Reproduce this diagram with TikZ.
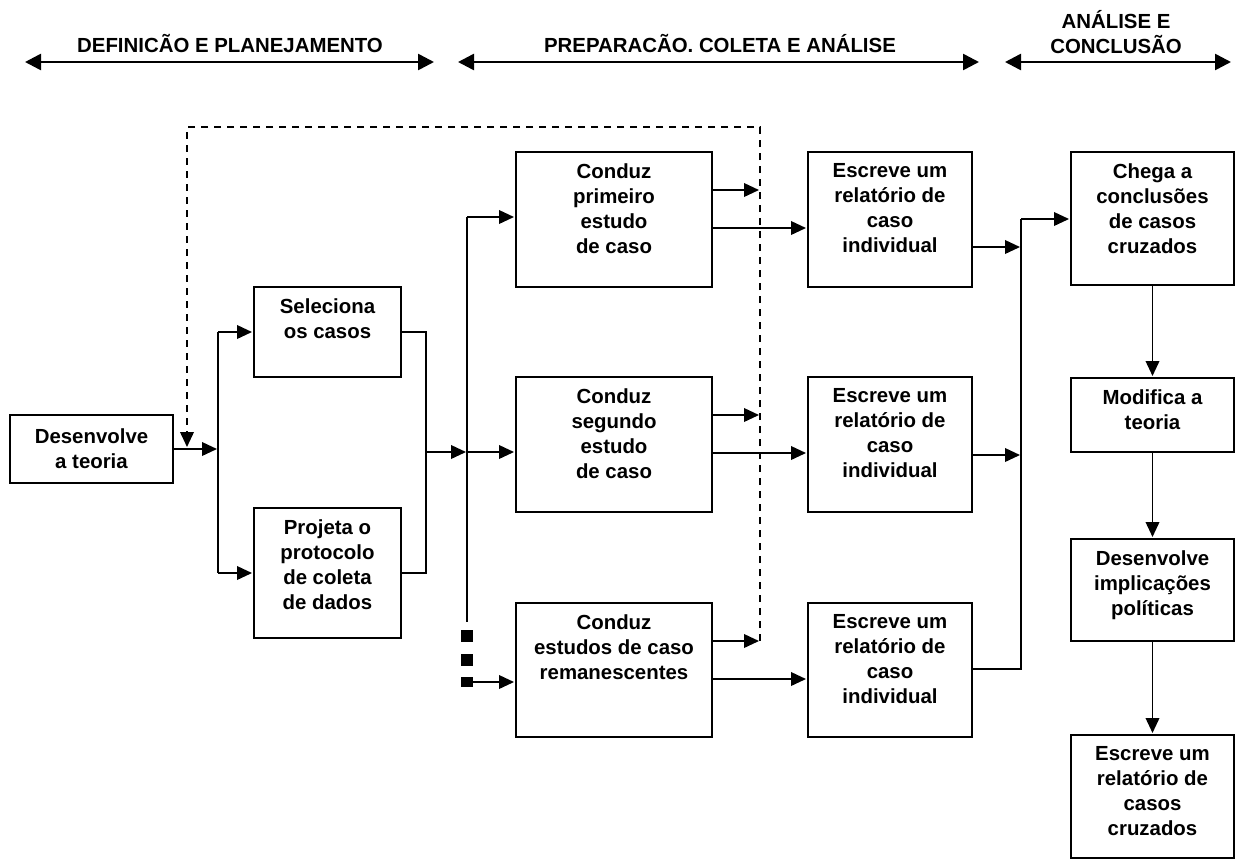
\documentclass[tikz,border=0pt]{standalone}
\usepackage{fontspec}
\setmainfont{Liberation Sans}
\usetikzlibrary{arrows.meta,fit,positioning}

\tikzset{
  caixa/.style={draw, line width=1pt, inner sep=0pt},
  rotulo/.style={font=\fontsize{10.2}{12.5}\selectfont\bfseries, align=center, inner sep=0pt, anchor=north},
  titulo/.style={font=\fontsize{10.2}{12.5}\selectfont\bfseries, align=center, inner sep=0pt},
  liga/.style={line width=0.9pt},
  seta/.style={liga, shorten >=0.5pt, -{Triangle[length=7.5pt,width=6.8pt]}},
  retorno/.style={line width=0.9pt, dash pattern=on 3.5pt off 3pt, -{Triangle[length=7.5pt,width=6.8pt]}},
  fase/.style={line width=1.3pt, {Triangle[length=8pt,width=8pt]}-{Triangle[length=8pt,width=8pt]}}
}

\begin{document}
\begin{tikzpicture}[x=0.5pt, y=-0.5pt]
\useasboundingbox (0,0) rectangle (1236,863);

% fases
\coordinate (f1a) at (25,62);
\coordinate (f1b) at (434,62);
\coordinate (f2a) at (458,62);
\coordinate (f2b) at (979,62);
\coordinate (f3a) at (1005,62);
\coordinate (f3b) at (1231,62);
\draw[fase] (f1a) -- (f1b);
\draw[fase] (f2a) -- (f2b);
\draw[fase] (f3a) -- (f3b);
\node[titulo, anchor=base] (fase1) at (230,52) {DEFINICÃO E PLANEJAMENTO};
\node[titulo, anchor=base] (fase2) at (720,52) {PREPARACÃO. COLETA E ANÁLISE};
\node[titulo] (fase3) at (1116,32) {ANÁLISE E\\CONCLUSÃO};

% caixas
\node[caixa, fit={(10,415) (173,483)}] (dev) {};
\node[caixa, fit={(254,287) (401,377)}] (sel) {};
\node[caixa, fit={(254,508) (401,638)}] (proj) {};
\node[caixa, fit={(516,152) (712,287)}] (cp1) {};
\node[caixa, fit={(516,377) (712,512)}] (cp2) {};
\node[caixa, fit={(516,603) (712,737)}] (cp3) {};
\node[caixa, fit={(808,152) (972,287)}] (rel1) {};
\node[caixa, fit={(808,377) (972,512)}] (rel2) {};
\node[caixa, fit={(808,603) (972,737)}] (rel3) {};
\node[caixa, fit={(1071,152) (1234,285)}] (con) {};
\node[caixa, fit={(1071,378) (1234,452)}] (mod) {};
\node[caixa, fit={(1071,539) (1234,641)}] (imp) {};
\node[caixa, fit={(1071,735) (1234,858)}] (cruz) {};

\node[titulo] (devt) at (dev.center) {Desenvolve\\a teoria};
\node[rotulo] (selt) at ([yshift=-6pt]sel.north) {Seleciona\\os casos};
\node[rotulo] (projt) at ([yshift=-6pt]proj.north) {Projeta o\\protocolo\\de coleta\\de dados};
\node[rotulo] (cp1t) at ([yshift=-6pt]cp1.north) {Conduz\\primeiro\\estudo\\de caso};
\node[rotulo] (cp2t) at ([yshift=-6pt]cp2.north) {Conduz\\segundo\\estudo\\de caso};
\node[rotulo] (cp3t) at ([yshift=-6pt]cp3.north) {Conduz\\estudos de caso\\remanescentes};
\node[rotulo] (rel1t) at ([yshift=-6pt]rel1.north) {Escreve um\\relatório de\\caso\\individual};
\node[rotulo] (rel2t) at ([yshift=-6pt]rel2.north) {Escreve um\\relatório de\\caso\\individual};
\node[rotulo] (rel3t) at ([yshift=-6pt]rel3.north) {Escreve um\\relatório de\\caso\\individual};
\node[rotulo] (cont) at ([yshift=-6pt]con.north) {Chega a\\conclusões\\de casos\\cruzados};
\node[rotulo] (modt) at ([yshift=-6pt]mod.north) {Modifica a\\teoria};
\node[rotulo] (impt) at ([yshift=-6pt]imp.north) {Desenvolve\\implicações\\políticas};
\node[rotulo] (cruzt) at ([yshift=-6pt]cruz.north) {Escreve um\\relatório de\\casos\\cruzados};

% definicao
\coordinate (v1t) at (218,332);
\coordinate (v1b) at (218,573);
\draw[seta] (dev.east) -- (dev.east -| v1t);
\draw[liga] (v1t) -- (v1b);
\draw[seta] (v1t) -- (sel.west |- v1t);
\draw[seta] (v1b) -- (proj.west |- v1b);
\coordinate (v2t) at (426,332);
\coordinate (v2b) at (426,573);
\coordinate (v2m) at (426,452);
\draw[liga] (sel.east |- v2t) -- (v2t) -- (v2b) -- (proj.east |- v2b);

% casos
\coordinate (e1) at (467,217);
\coordinate (e2) at (467,452);
\coordinate (e3) at (467,622);
\coordinate (e4) at (473,682);
\draw[seta] (v2m) -- (e2);
\draw[liga] (e1) -- (e3);
\fill (461,630) rectangle (473,642);
\fill (461,654) rectangle (473,666);
\fill (461,677) rectangle (473,687);
\draw[seta] (e1) -- (cp1.west |- e1);
\draw[seta] (e2) -- (cp2.west |- e2);
\draw[seta] (e4) -- (cp3.west |- e4);

% retorno
\coordinate (r1) at (760,641);
\coordinate (r2) at (760,127);
\coordinate (r3) at (187,127);
\coordinate (r4) at (187,447);
\draw[retorno] (r1) -- (r2) -- (r3) -- (r4);
\foreach \c/\ya/\yb in {cp1/190/228, cp2/415/453, cp3/641/679} {
  \draw[seta] (\c.east |- 0,\ya) -- (r2 |- 0,\ya);
}
\draw[seta] (cp1.east |- 0,228) -- (rel1.west |- 0,228);
\draw[seta] (cp2.east |- 0,453) -- (rel2.west |- 0,453);
\draw[seta] (cp3.east |- 0,679) -- (rel3.west |- 0,679);

% conclusao
\coordinate (v4t) at (1021,219);
\coordinate (v4b) at (1021,669);
\draw[liga] (v4t) -- (v4b) -- (rel3.east |- v4b);
\draw[seta] (rel1.east |- 0,247) -- (v4t |- 0,247);
\draw[seta] (rel2.east |- 0,455) -- (v4t |- 0,455);
\draw[seta] (v4t) -- (con.west |- v4t);
\draw[seta] (con) -- (mod);
\draw[seta] (mod) -- (imp);
\draw[seta] (imp) -- (cruz);
\end{tikzpicture}
\end{document}
